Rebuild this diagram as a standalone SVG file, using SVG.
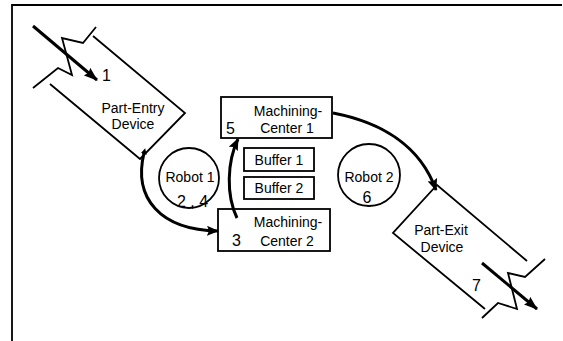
<svg xmlns="http://www.w3.org/2000/svg" width="563" height="341" viewBox="0 0 563 341">
<defs>
<marker id="ah" viewBox="0 0 12 10" refX="11" refY="5" markerWidth="12" markerHeight="10" markerUnits="userSpaceOnUse" orient="auto">
<path d="M0,0 L12,5 L0,10 L2,5 Z" fill="#000"/>
</marker>
<marker id="ahBig" viewBox="0 0 14 10" refX="13" refY="5" markerWidth="14" markerHeight="10" markerUnits="userSpaceOnUse" orient="auto">
<path d="M0,0 L14,5 L0,10 L2,5 Z" fill="#000"/>
</marker>
<marker id="tail" viewBox="0 0 6 6" refX="1" refY="3" markerWidth="6" markerHeight="6" markerUnits="userSpaceOnUse" orient="auto-start-reverse">
<path d="M0,0 L6,3 L0,6 Z" fill="#000"/>
</marker>
</defs>
<style>
.ln{fill:none;stroke:#000;stroke-width:1.8;stroke-linejoin:miter}
.box{fill:#fff;stroke:#000;stroke-width:1.8}
.lbl{font-family:"Liberation Sans",Arial,sans-serif;font-size:14px;fill:#000;text-anchor:middle}
.num{font-family:"Liberation Sans",Arial,sans-serif;font-size:16px;fill:#000}
.flow{fill:none;stroke:#000;stroke-width:3}
</style>
<path class="ln" d="M12,341 V5 H562"/>

<g id="part-entry">
<polyline class="ln" points="93,36 185,113 140,159 50,84"/>
<polyline class="ln" points="96,27 83,43 62,38 72,75 58,68 33,88"/>
<line class="flow" x1="33" y1="26" x2="97" y2="80" stroke-width="3.5" marker-end="url(#ahBig)"/>
<text class="num" x="102" y="81">1</text>
<text class="lbl" x="133" y="113">Part-Entry</text>
<text class="lbl" x="133" y="129">Device</text>
</g>

<g id="robot1">
<circle class="ln" cx="189" cy="178" r="30"/>
<text class="lbl" x="190" y="182">Robot 1</text>
<text class="num" x="177" y="207">2 , 4</text>
</g>

<g id="mc1">
<rect class="box" x="221" y="97" width="111" height="41"/>
<text class="lbl" x="288" y="116">Machining-</text>
<text class="lbl" x="287" y="133">Center 1</text>
<text class="num" x="226" y="134">5</text>
</g>

<g id="buffer1">
<rect class="box" x="244" y="148" width="70" height="23"/>
<text class="lbl" x="279" y="165">Buffer 1</text>
</g>

<g id="buffer2">
<rect class="box" x="244" y="177" width="70" height="22"/>
<text class="lbl" x="279" y="193">Buffer 2</text>
</g>

<g id="mc2">
<rect class="box" x="218" y="209" width="112" height="42"/>
<text class="lbl" x="288" y="227">Machining-</text>
<text class="lbl" x="287" y="246">Center 2</text>
<text class="num" x="232" y="246">3</text>
</g>

<g id="robot2">
<circle class="ln" cx="369" cy="175" r="31"/>
<text class="lbl" x="369" y="182">Robot 2</text>
<text class="num" x="367" y="203" text-anchor="middle">6</text>
</g>

<g id="part-exit">
<polyline class="ln" points="527,261 437,185 393,233 485,309"/>
<polyline class="ln" points="545,259 525,277 508,273 517,309 498,303 482,318"/>
<line class="flow" x1="482" y1="263" x2="537" y2="309" stroke-width="3.5" marker-end="url(#ahBig)"/>
<text class="num" x="472" y="291">7</text>
<text class="lbl" x="441" y="235">Part-Exit</text>
<text class="lbl" x="442" y="252">Device</text>
</g>

<g id="connectors">
<path class="flow" d="M144,153 C133,198 160,230 218,231" marker-start="url(#tail)" marker-end="url(#ah)"/>
<path class="flow" d="M237,218 C226,195 227,162 238,139" marker-end="url(#ah)"/>
<path class="flow" d="M333,113 C380,122 420,145 436,190" marker-end="url(#ah)"/>
</g>
</svg>
